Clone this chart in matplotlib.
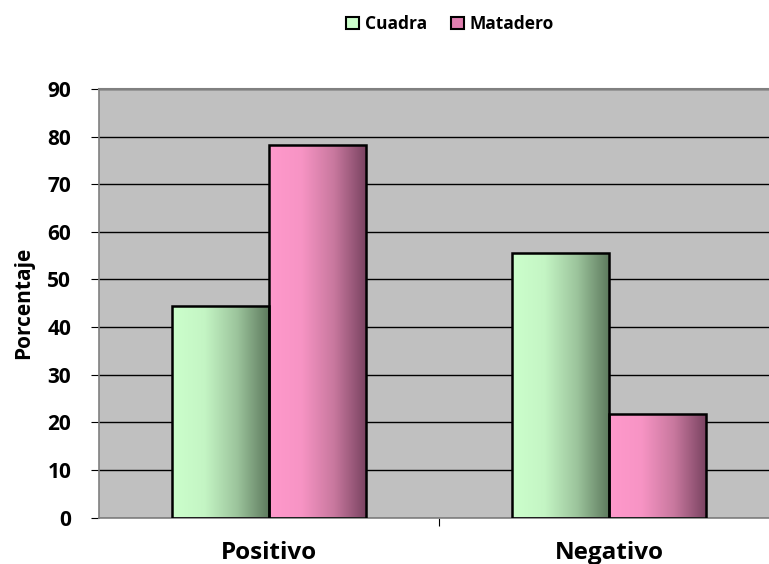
import numpy as np
import matplotlib
matplotlib.use("Agg")
import matplotlib.pyplot as plt
from matplotlib.colors import LinearSegmentedColormap
from matplotlib.patches import Rectangle

categories = ["Positivo", "Negativo"]
series_names = ["Cuadra", "Matadero"]
cuadra = [44.4, 55.6]
matadero = [78.2, 21.8]
yticks = [0, 10, 20, 30, 40, 50, 60, 70, 80, 90]

# light -> dark horizontal gradients for each series
grad_colors = {
    "Cuadra": ["#CCFFCC", "#C4F5C4", "#9CC49C", "#5C785C"],
    "Matadero": ["#FF99CC", "#F794C4", "#C8789E", "#784260"],
}

plt.rcParams["font.family"] = ["Open Sans", "DejaVu Sans"]
plt.rcParams["font.weight"] = "bold"

fig = plt.figure(figsize=(7.69, 5.64), dpi=100)
ax = fig.add_axes([99 / 769, 1 - 517.5 / 564, 1 - 99 / 769, (517.5 - 89) / 564])
ax.set_facecolor("#C0C0C0")

x = np.arange(len(categories))
width = 0.2857


def gradient_bars(rects, name):
    cmap = LinearSegmentedColormap.from_list(name, grad_colors[name])
    grad = np.linspace(0, 1, 256).reshape(1, -1)
    for r in rects:
        x0, y0 = r.get_x(), r.get_y()
        w, h = r.get_width(), r.get_height()
        im = ax.imshow(grad, cmap=cmap, aspect="auto", extent=(x0, x0 + w, y0, y0 + h),
                       zorder=2, interpolation="bilinear")
        im.set_clip_path(r)
        r.set_facecolor("none")


b1 = ax.bar(x - width / 2, cuadra, width, edgecolor="black", linewidth=1.8, zorder=3)
b2 = ax.bar(x + width / 2, matadero, width, edgecolor="black", linewidth=1.8, zorder=3)
gradient_bars(b1, "Cuadra")
gradient_bars(b2, "Matadero")

ax.set_xlim(-0.5, 1.5 - 10 / 339.6)
ax.set_ylim(0, 90)
ax.set_yticks(yticks)
ax.yaxis.grid(True, color="black", linewidth=1.0, zorder=1)
ax.set_axisbelow(True)

ax.set_xticks([0.5])
ax.set_xticklabels([""])
ax.set_xticks(x, minor=True)
ax.set_xticklabels(categories, minor=True, fontsize=17.5, fontweight="bold")
ax.tick_params(axis="x", which="minor", length=0, pad=17)
ax.tick_params(axis="x", which="major", length=6, color="black", width=0.8)
ax.tick_params(axis="y", length=6, color="black", width=0.8, labelsize=15, pad=14)
for lab in ax.get_yticklabels():
    lab.set_fontweight("bold")

for side in ["left", "bottom"]:
    ax.spines[side].set_color("#808080")
    ax.spines[side].set_linewidth(1.2)
ax.spines["top"].set_color("#808080")
ax.spines["top"].set_linewidth(1.5)
ax.spines["right"].set_visible(False)

ax.set_ylabel("Porcentaje", fontsize=15, fontweight="bold")
ax.yaxis.set_label_coords(-65 / 670, 0.5)

# legend with gradient-coloured swatches
handles = [Rectangle((0, 0), 1, 1, facecolor=grad_colors[n][0], edgecolor="black", linewidth=1.5)
           for n in series_names]
handles[1].set_facecolor("#E07FB0")
leg = fig.legend(handles, series_names, loc="center", bbox_to_anchor=(450 / 769, 1 - 24 / 564),
                 ncol=2, frameon=False, fontsize=12.5, handlelength=0.75, handleheight=0.75,
                 handletextpad=0.3, columnspacing=1.4)
for t in leg.get_texts():
    t.set_fontweight("bold")

fig.savefig("out.png", dpi=100)
